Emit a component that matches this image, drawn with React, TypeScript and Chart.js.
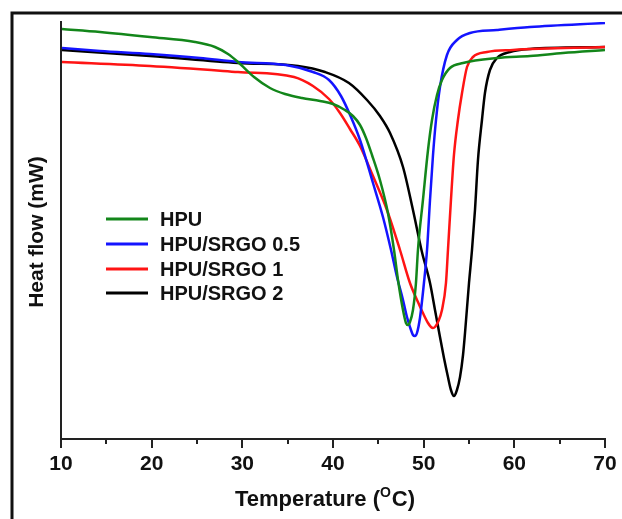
import React, { useEffect, useRef } from "react";
import { Chart, registerables } from "chart.js";

Chart.register(...registerables);

// ---- data (temperature in °C, heat flow in arbitrary mW units) ----
const seriesLabels = ["HPU", "HPU/SRGO 0.5", "HPU/SRGO 1", "HPU/SRGO 2"];
const seriesColors = ["#13861a", "#1414ff", "#ff1414", "#000000"];

const hpuT = [10.11, 14.30, 19.82, 24.78, 26.98, 28.42, 29.52, 31.29, 33.05, 34.71, 36.58, 38.57, 40.00, 41.32, 42.20, 42.98, 43.64, 44.30, 45.18, 46.06, 46.73, 47.17, 47.72, 48.05, 48.27, 48.49, 48.82, 49.15, 49.37, 49.92, 50.48, 50.92, 51.47, 52.02, 52.90, 54.34, 58.09, 61.73, 65.37, 70.00];
const hpuHF = [4.10, 4.07, 4.02, 3.97, 3.92, 3.85, 3.77, 3.62, 3.51, 3.45, 3.41, 3.38, 3.35, 3.29, 3.23, 3.14, 3.01, 2.84, 2.59, 2.26, 1.89, 1.59, 1.29, 1.16, 1.14, 1.17, 1.29, 1.56, 1.89, 2.39, 2.89, 3.19, 3.44, 3.59, 3.71, 3.76, 3.81, 3.83, 3.86, 3.89];

const srgo05T = [10.11, 14.30, 19.82, 25.33, 29.52, 34.82, 37.79, 39.56, 40.88, 41.98, 42.98, 44.41, 45.51, 46.40, 47.06, 47.72, 48.16, 48.60, 48.82, 49.04, 49.26, 49.59, 50.03, 50.37, 50.70, 51.03, 51.36, 51.80, 52.57, 53.67, 55.11, 58.09, 61.73, 70.00];
const srgo05HF = [3.91, 3.88, 3.85, 3.81, 3.77, 3.74, 3.67, 3.59, 3.43, 3.22, 2.99, 2.56, 2.22, 1.89, 1.62, 1.39, 1.22, 1.09, 1.04, 1.03, 1.06, 1.21, 1.56, 1.89, 2.39, 2.84, 3.19, 3.52, 3.84, 3.99, 4.06, 4.09, 4.12, 4.16];

const srgo1T = [10.11, 19.82, 29.52, 35.70, 37.79, 39.56, 40.77, 41.87, 42.98, 44.41, 45.95, 47.39, 48.49, 49.37, 49.92, 50.48, 50.81, 51.03, 51.25, 51.58, 52.02, 52.46, 52.68, 53.01, 53.34, 53.78, 54.23, 54.78, 55.44, 56.98, 59.85, 70.00];
const srgo1HF = [3.77, 3.73, 3.67, 3.62, 3.53, 3.40, 3.26, 3.10, 2.93, 2.63, 2.29, 1.89, 1.56, 1.37, 1.26, 1.16, 1.12, 1.11, 1.12, 1.17, 1.29, 1.56, 1.89, 2.39, 2.84, 3.19, 3.46, 3.72, 3.82, 3.87, 3.89, 3.92];

const srgo2T = [10.11, 19.82, 29.52, 36.14, 39.12, 41.76, 43.75, 45.18, 46.29, 47.72, 48.82, 49.81, 50.70, 51.25, 51.80, 52.24, 52.68, 53.01, 53.34, 53.67, 54.01, 54.34, 54.56, 55.00, 55.33, 55.66, 55.99, 56.43, 56.76, 57.31, 58.09, 59.52, 61.73, 70.00];
const srgo2HF = [3.89, 3.83, 3.76, 3.73, 3.67, 3.56, 3.39, 3.23, 3.06, 2.72, 2.29, 1.87, 1.56, 1.29, 1.02, 0.81, 0.62, 0.49, 0.43, 0.49, 0.62, 0.84, 1.06, 1.56, 1.89, 2.29, 2.79, 3.19, 3.46, 3.69, 3.81, 3.87, 3.90, 3.92];

const xMin = 10;
const xMax = 70;
const xStep = 10;
const minorTicks = [15, 25, 35, 45, 55, 65];
const yMin = 0;
const yMax = 4.17;

const xTitleMain = "Temperature (";
const xTitleSup = "O";
const xTitleEnd = "C)";
const yTitle = "Heat flow (mW)";

const FONT = "'Liberation Sans', Arial, Helvetica, sans-serif";
const INK = "#111111";

const pairs = (xs: number[], ys: number[]) => xs.map((x, i) => ({ x, y: ys[i] }));

const decorPlugin = {
  id: "decor",
  afterDraw(chart: any) {
    const ctx = chart.ctx as CanvasRenderingContext2D;
    const xs = chart.scales.x;
    const area = chart.chartArea;
    ctx.save();

    // outer frame (left + top)
    ctx.strokeStyle = "#111";
    ctx.lineWidth = 3;
    ctx.beginPath();
    ctx.moveTo(12, chart.height);
    ctx.lineTo(12, 13);
    ctx.lineTo(chart.width, 13);
    ctx.stroke();

    // minor ticks
    ctx.strokeStyle = "#222";
    ctx.lineWidth = 2;
    minorTicks.forEach((v) => {
      const px = Math.round(xs.getPixelForValue(v));
      ctx.beginPath();
      ctx.moveTo(px, area.bottom);
      ctx.lineTo(px, area.bottom + 5);
      ctx.stroke();
    });

    // legend
    const rows = [219, 244, 269, 293];
    chart.data.datasets.forEach((ds: any, i: number) => {
      const y = rows[i];
      ctx.strokeStyle = ds.borderColor;
      ctx.lineWidth = 3;
      ctx.beginPath();
      ctx.moveTo(106, y);
      ctx.lineTo(148, y);
      ctx.stroke();
      ctx.fillStyle = INK;
      ctx.font = `bold 20px ${FONT}`;
      ctx.textAlign = "left";
      ctx.textBaseline = "middle";
      ctx.fillText(ds.label, 160, y + 1);
    });

    // y title
    ctx.save();
    ctx.translate(37, 232);
    ctx.rotate(-Math.PI / 2);
    ctx.font = `bold 21px ${FONT}`;
    ctx.fillStyle = INK;
    ctx.textAlign = "center";
    ctx.textBaseline = "middle";
    ctx.fillText(yTitle, 0, 0);
    ctx.restore();

    // x title with superscript
    const mainFont = `bold 22px ${FONT}`;
    const supFont = `bold 14px ${FONT}`;
    ctx.font = mainFont;
    const w1 = ctx.measureText(xTitleMain).width;
    const w3 = ctx.measureText(xTitleEnd).width;
    ctx.font = supFont;
    const w2 = ctx.measureText(xTitleSup).width;
    const total = w1 + w2 + w3 + 1;
    let x0 = 325 - total / 2;
    const base = 506;
    ctx.textAlign = "left";
    ctx.textBaseline = "alphabetic";
    ctx.fillStyle = INK;
    ctx.font = mainFont;
    ctx.fillText(xTitleMain, x0, base);
    x0 += w1;
    ctx.font = supFont;
    ctx.fillText(xTitleSup, x0, base - 9);
    x0 += w2 + 1;
    ctx.font = mainFont;
    ctx.fillText(xTitleEnd, x0, base);

    ctx.restore();
  },
};

export default function App() {
  const ref = useRef<HTMLCanvasElement | null>(null);

  useEffect(() => {
    if (!ref.current) return;
    const series = [
      pairs(hpuT, hpuHF),
      pairs(srgo05T, srgo05HF),
      pairs(srgo1T, srgo1HF),
      pairs(srgo2T, srgo2HF),
    ];
    const chart = new Chart(ref.current, {
      type: "line",
      data: {
        datasets: series.map((d, i) => ({
          label: seriesLabels[i],
          data: d,
          borderColor: seriesColors[i],
          backgroundColor: seriesColors[i],
          borderWidth: 2.5,
          pointRadius: 0,
          fill: false,
          cubicInterpolationMode: "monotone" as const,
        })),
      },
      options: {
        animation: false,
        responsive: false,
        maintainAspectRatio: false,
        layout: { padding: { top: 22, right: 17, left: 0, bottom: 0 } },
        plugins: { legend: { display: false }, tooltip: { enabled: false } },
        scales: {
          x: {
            type: "linear",
            min: xMin,
            max: xMax,
            ticks: {
              stepSize: xStep,
              color: INK,
              padding: 4,
              maxRotation: 0,
              autoSkip: false,
              font: { family: FONT, size: 21, weight: "bold" },
            },
            grid: {
              display: true,
              drawOnChartArea: false,
              drawTicks: true,
              tickLength: 9,
              color: "#222",
              lineWidth: 2,
            },
            border: { display: true, color: "#222", width: 2 },
            afterFit: (s: any) => {
              s.height = 80;
            },
          },
          y: {
            type: "linear",
            min: yMin,
            max: yMax,
            ticks: { display: false },
            grid: { display: false },
            border: { display: true, color: "#222", width: 2 },
            afterFit: (s: any) => {
              s.width = 61;
            },
          },
        },
      },
      plugins: [decorPlugin],
    });
    return () => chart.destroy();
  }, []);

  return (
    <div style={{ position: "absolute", left: 0, top: 0, width: 622, height: 519, background: "#fff" }}>
      <canvas ref={ref} width={622} height={519} style={{ display: "block" }} />
    </div>
  );
}
